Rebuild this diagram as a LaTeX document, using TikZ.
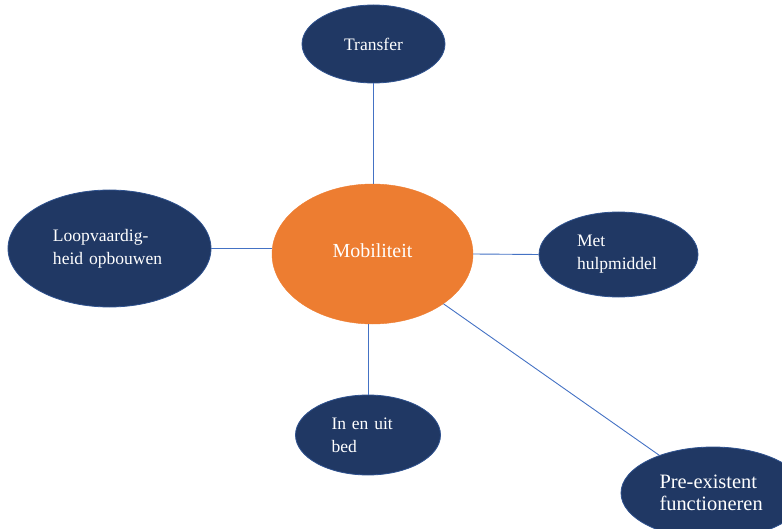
\documentclass[tikz,border=0pt]{standalone}
\usepackage{fontspec}
\setmainfont{Liberation Serif}
\usetikzlibrary{shapes.geometric}
\definecolor{navy}{HTML}{203864}
\definecolor{navyedge}{HTML}{2F528F}
\definecolor{accent}{HTML}{ED7D31}
\definecolor{linkblue}{HTML}{4472C4}
\tikzset{
  bubble/.style={ellipse, fill=navy, draw=navyedge, line width=0.8bp,
    inner sep=0pt, text=white, align=left,
    font=\fontsize{17.6}{23}\selectfont},
  hub/.style={ellipse, fill=accent, draw=accent, inner sep=0pt,
    text=white, font=\fontsize{20}{24}\selectfont},
  spoke/.style={draw=linkblue, line width=0.9bp}
}
\begin{document}
\begin{tikzpicture}[x=1bp,y=-1bp]
\useasboundingbox (0,0) rectangle (782,529);
\clip (0,0) rectangle (782,529);

% centre
\node[hub, minimum width=201bp, minimum height=140bp] (hub) at (372.5,254)
  {\raisebox{6bp}{Mobiliteit}};

% satellites
\node[bubble, minimum width=143bp, minimum height=78bp] (transfer) at (373.5,44)
  {Transfer};
\node[bubble, minimum width=203bp, minimum height=117bp, text width=113bp] (loop) at (109.5,248.5)
  {Loopvaardig-\\heid opbouwen};
\node[bubble, minimum width=159bp, minimum height=85bp, text width=83bp] (met) at (618.5,254.5)
  {Met\\hulpmiddel};
\node[bubble, minimum width=145bp, minimum height=80bp, text width=73bp] (bed) at (368,435)
  {In en uit\\bed};
\node[bubble, minimum width=184bp, minimum height=92bp, text width=107bp,
  font=\fontsize{20.5}{21.5}\selectfont] (pre) at (713,493)
  {Pre-existent\\functioneren};

% spokes from the centre to each satellite
\draw[spoke] (transfer.south) -- (transfer.south |- hub.north);
\draw[spoke] (loop.east) -- (loop.east -| hub.west);
\draw[spoke] (hub.east) -- (met.west);
\draw[spoke] (bed.north) -- (bed.north |- hub.south);
\draw[spoke] (hub) -- (pre);
\end{tikzpicture}
\end{document}
